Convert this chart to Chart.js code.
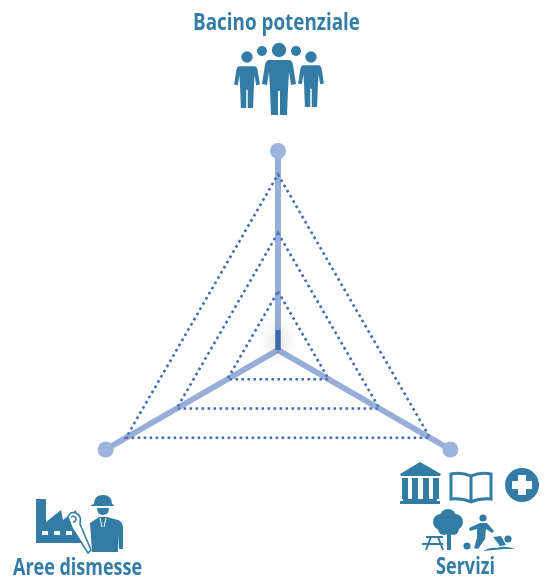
<!DOCTYPE html>
<html>
<head>
<meta charset="utf-8">
<title>Radar</title>
<script src="https://cdn.jsdelivr.net/npm/chart.js@4/dist/chart.umd.min.js"></script>
<style>
    html, body { margin: 0; padding: 0; background: #fff; overflow: hidden; }
    #wrap { width: 549px; height: 577px; }
</style>
</head>
<body>
<div id="wrap"><canvas id="radar" width="549" height="577"></canvas></div>
<script>
const categories = ["Bacino potenziale", "Servizi", "Aree dismesse"];
const outerValues = [34, 34, 34];
const stubValues = [3.4, 0, 0];
const gridLevels = [0, 10, 20, 30];

const BLUE = "#337ca5";

// one standing figure, drawn around x = 0 with its feet at y = 0 and 55 high
const figure = new Path2D(
    "M-10 -55 L10 -55 Q13 -55 14 -50 L17 -31 L12 -30 L10 -43 L9 -26 L8 0 L1 0 L1 -24 L-1 -24 L-1 0 L-8 0 L-9 -26 L-10 -43 L-12 -30 L-17 -31 L-14 -50 Q-13 -55 -10 -55 Z"
);

function disc(ctx, x, y, r, color) {
    ctx.fillStyle = color;
    ctx.beginPath();
    ctx.arc(x, y, r, 0, Math.PI * 2);
    ctx.fill();
}

function drawPeople(ctx) {
    [[247, 108, 0.76, 57, 5.7], [279, 115, 1, 50, 7.2], [311, 107, 0.76, 57, 5.7]].forEach(([x, feet, s, headY, headR]) => {
        ctx.save();
        ctx.translate(x, feet);
        ctx.scale(s, s);
        ctx.fillStyle = BLUE;
        ctx.fill(figure);
        ctx.restore();
        disc(ctx, x, headY, headR, BLUE);
    });
    disc(ctx, 262, 51, 5, BLUE);
    disc(ctx, 296, 51, 5, BLUE);
}

function drawWorker(ctx) {
    ctx.fillStyle = BLUE;
    // factory
    ctx.fill(new Path2D("M36 499 L46 499 L46 522 L61 510 L63 520 L76 510 L82 543 L36 543 Z"));
    ctx.fillStyle = "#fff";
    [42, 54, 66].forEach(x => ctx.fillRect(x, 531, 6, 4));
    // rolled plan
    const plan = new Path2D("M68 517 Q70 511 76 513 Q82 516 80 524 L91 550 L88 553 L72 528 Z");
    ctx.fill(plan);
    ctx.strokeStyle = BLUE;
    ctx.lineWidth = 1.6;
    ctx.stroke(plan);
    ctx.stroke(new Path2D("M71 517 Q74 515 76 518 Q76 522 73 522"));
    // helmet, face, body
    ctx.fillStyle = BLUE;
    ctx.fill(new Path2D("M94 504 Q94 495 103 495 Q112 495 112 504 L114 505 L114 506 L91 506 L91 505 Z"));
    ctx.fill(new Path2D("M97 508 L109 508 Q109 515 103 515 Q97 515 97 508 Z"));
    ctx.fill(new Path2D("M90 523 L99 517 L107 517 L118 520 Q123 522 123 528 L123 549 L119 549 L118 535 L118 552 L92 552 Z"));
    ctx.strokeStyle = "#fff";
    ctx.lineWidth = 1;
    ctx.stroke(new Path2D("M100 518 L102 527 M106 518 L104 527"));
}

function drawTemple(ctx) {
    ctx.fillStyle = BLUE;
    ctx.fill(new Path2D("M420 462 L441 474 L440 476 L401 476 L400 474 Z"));
    [402, 412, 423, 433].forEach(x => ctx.fillRect(x, 478, 6, 21));
    ctx.fillRect(403, 499, 34, 2);
    ctx.fillRect(400, 501, 40, 3);
}

function drawBook(ctx) {
    ctx.strokeStyle = BLUE;
    ctx.lineWidth = 3;
    ctx.stroke(new Path2D("M451 474 Q462 472 471 476 Q480 472 491 474 L491 499 Q480 498 471 502 Q462 498 451 499 Z M471 476 L471 502"));
}

function drawCross(ctx) {
    disc(ctx, 522, 485, 17, BLUE);
    ctx.fillStyle = "#fff";
    ctx.fillRect(518, 475, 8, 20);
    ctx.fillRect(512, 481, 20, 8);
}

function drawPark(ctx) {
    ctx.fillStyle = BLUE;
    // tree
    [[448, 517, 8], [441, 522, 8], [455, 522, 8], [444, 529, 6], [453, 529, 6], [448, 524, 9]].forEach(([x, y, r]) => disc(ctx, x, y, r, BLUE));
    ctx.fillRect(447, 530, 4, 20);
    // picnic table
    ctx.fillRect(426, 536, 17, 2);
    ctx.fillRect(422, 543, 21, 2);
    ctx.strokeStyle = BLUE;
    ctx.lineWidth = 2;
    ctx.stroke(new Path2D("M431 537 L426 550 M438 537 L443 550"));
    // player and ball
    disc(ctx, 483, 518, 3.6, BLUE);
    ctx.fill(new Path2D("M469 528 L480 523 L487 523 L494 531 L492 533 L486 529 L485 539 L478 549 L474 548 L477 538 L477 529 L470 531 Z"));
    disc(ctx, 467, 546, 3.6, BLUE);
    // swimmer
    disc(ctx, 508, 539, 3.6, BLUE);
    ctx.fill(new Path2D("M493 537 L501 536 L506 545 L500 546 Z"));
    ctx.fill(new Path2D("M483 551 Q490 547 497 548 Q504 545 515 549 L504 549 Q495 550 483 551 Z"));
}

function drawLabel(ctx, text, left, width, baseline) {
    ctx.save();
    ctx.font = "bold 24px 'Open Sans'";
    ctx.textAlign = "left";
    ctx.textBaseline = "alphabetic";
    const measured = ctx.measureText(text).width;
    ctx.translate(left, baseline);
    ctx.scale(width / measured, 1);
    ctx.fillStyle = BLUE;
    ctx.fillText(text, 0, 0);
    ctx.restore();
}

const decorations = {
    id: "decorations",
    afterDraw(chart) {
        const ctx = chart.ctx;
        ctx.save();
        drawPeople(ctx);
        drawWorker(ctx);
        drawTemple(ctx);
        drawBook(ctx);
        drawCross(ctx);
        drawPark(ctx);
        ctx.restore();
        drawLabel(ctx, categories[0], 193, 167, 30);
        drawLabel(ctx, categories[1], 436, 59, 574);
        drawLabel(ctx, categories[2], 13, 129, 575);
    }
};

// soft shadow under the short dark stub
const stubShadow = {
    id: "stubShadow",
    beforeDatasetDraw(chart, args) {
        if (args.index !== 1) return;
        chart.ctx.save();
        chart.ctx.shadowColor = "rgba(60,60,70,0.5)";
        chart.ctx.shadowBlur = 16;
    },
    afterDatasetDraw(chart, args) {
        if (args.index === 1) chart.ctx.restore();
    }
};

new Chart(document.getElementById("radar"), {
    type: "radar",
    data: {
        labels: categories,
        datasets: [
            {
                data: outerValues,
                showLine: false,
                borderWidth: 0,
                fill: false,
                clip: false,
                pointRadius: 8,
                pointBorderWidth: 0,
                pointBackgroundColor: "#9db4dc"
            },
            {
                data: stubValues,
                borderColor: "#3a6bad",
                borderWidth: 5,
                fill: false,
                clip: false,
                pointRadius: 0
            }
        ]
    },
    options: {
        responsive: false,
        animation: false,
        layout: { padding: { left: 79, right: 72, top: 151, bottom: 28 } },
        plugins: {
            legend: { display: false },
            tooltip: { enabled: false }
        },
        scales: {
            r: {
                min: 0,
                max: 34,
                afterBuildTicks: axis => { axis.ticks = gridLevels.map(value => ({ value })); },
                ticks: { display: false },
                pointLabels: { display: false },
                angleLines: { color: "rgba(85,125,192,0.62)", lineWidth: 6 },
                grid: { color: "#3f6cb0", lineWidth: 2.6 },
                border: { dash: [2.6, 3.4] }
            }
        }
    },
    plugins: [stubShadow, decorations]
});
</script>
</body>
</html>
